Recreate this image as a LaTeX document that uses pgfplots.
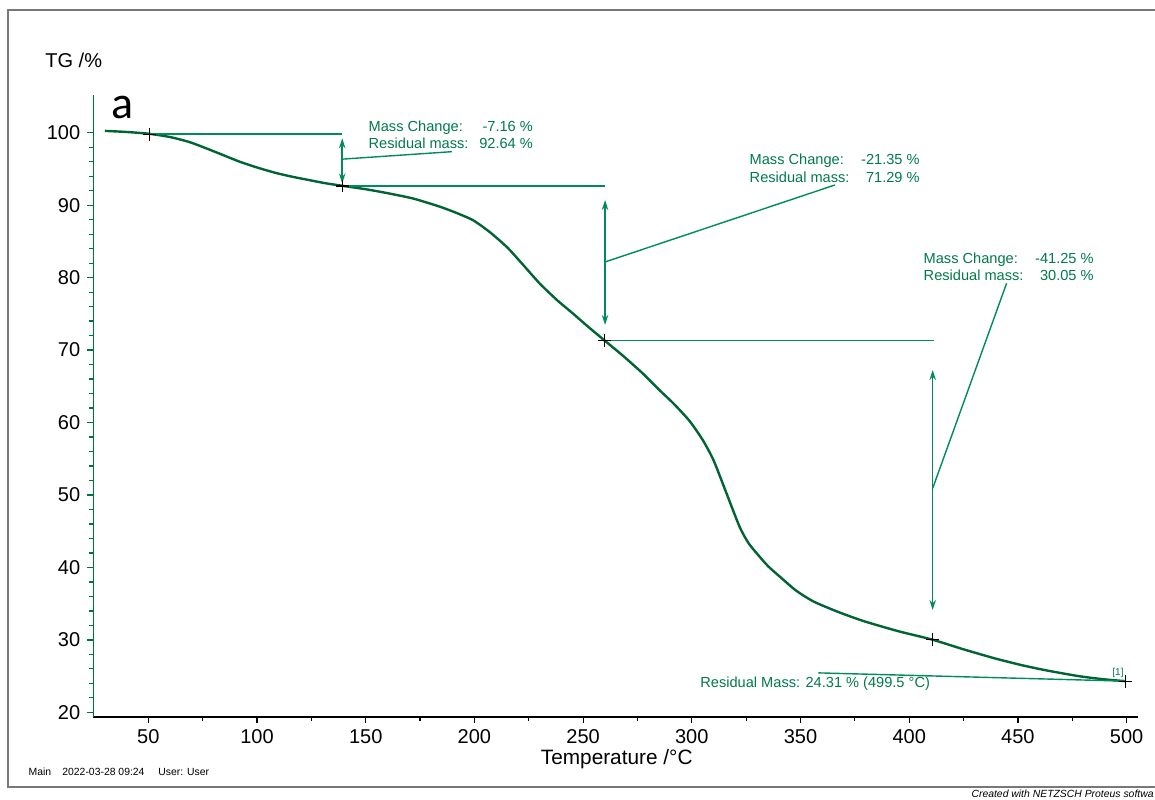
\documentclass[border=0pt]{standalone}
\usepackage{pgfplots}
\pgfplotsset{compat=1.18}
\usepackage{fontspec}
\setmainfont{Liberation Sans}
\newfontfamily\calib{Carlito}
\usetikzlibrary{arrows.meta}
\definecolor{curvegreen}{RGB}{0,100,52}
\definecolor{axgreen}{RGB}{0,115,60}
\definecolor{anngreen}{RGB}{0,140,90}
\definecolor{txtgreen}{RGB}{0,122,76}
\definecolor{framegray}{RGB}{120,120,120}
\begin{document}
\begin{tikzpicture}
\useasboundingbox (0pt,0pt) rectangle (577.5pt,-399.5pt);
\fill[white] (0pt,0pt) rectangle (577.5pt,-399.5pt);
\begin{scope}[x=0.5pt,y=-0.5pt]
\draw[framegray, line width=1.1pt] (1180,10) -- (8.3,10) -- (8.3,786.7) -- (1180,786.7);
\node[anchor=west, font=\fontsize{10}{12}\selectfont, inner sep=0pt] at (45,60) {TG /\%};
\node[anchor=base west, font=\calib\fontsize{23}{26}\selectfont, inner sep=0pt] at (111,118) {a};
\begin{scope}[txtgreen, font=\fontsize{7.3}{8.6}\selectfont, inner sep=0pt]
\node[anchor=base west] at (368.3,131.2) {Mass Change:};
\node[anchor=base east] at (533.3,131.2) {-7.16 \%};
\node[anchor=base west] at (368.3,148.5) {Residual mass:};
\node[anchor=base east] at (533.3,148.5) {92.64 \%};
\node[anchor=base west] at (749.3,164.5) {Mass Change:};
\node[anchor=base east] at (920,164.5) {-21.35 \%};
\node[anchor=base west] at (749.3,182) {Residual mass:};
\node[anchor=base east] at (920,182) {71.29 \%};
\node[anchor=base west] at (923.3,263.5) {Mass Change:};
\node[anchor=base east] at (1094,263.5) {-41.25 \%};
\node[anchor=base west] at (923.3,280.2) {Residual mass:};
\node[anchor=base east] at (1094,280.2) {30.05 \%};
\node[anchor=base west] at (700,687) {Residual Mass: 24.31 \% (499.5 °C)};
\node[anchor=center, font=\fontsize{5}{6}\selectfont] at (1118,673) {[1]};
\end{scope}
\node[anchor=base, font=\fontsize{10.4}{12}\selectfont, inner sep=0pt] at (616.7,764) {Temperature /°C};
\begin{scope}[font=\fontsize{5.2}{6}\selectfont, inner sep=0pt]
\node[anchor=base west] at (28.3,775.4) {Main};
\node[anchor=base west] at (62,775.4) {2022-03-28 09:24};
\node[anchor=base west] at (158,775.4) {User: User};
\node[anchor=base east, font=\fontsize{5.2}{6}\selectfont\itshape] at (1154,797.5) {Created with NETZSCH Proteus softwa};
\end{scope}
\end{scope}
\begin{axis}[
  at={(46.65pt,-358.35pt)}, anchor=south west,
  scale only axis, width=522.35pt, height=310.85pt,
  xmin=24.7, xmax=505.25, ymin=19.4, ymax=105.2,
  axis lines=left, axis line style={-},
  x axis line style={black, line width=0.8pt},
  y axis line style={axgreen, line width=0.8pt},
  xtick={50,100,...,500}, ytick={20,30,...,100},
  minor x tick num=1, minor y tick num=4,
  tick align=outside,
  major tick length=3pt, minor tick length=2pt,
  xtick style={black, line width=0.6pt},
  ytick style={axgreen, line width=0.6pt},
  tick label style={font=\fontsize{10}{12}\selectfont},
  /pgf/number format/assume math mode=true,
  scaled ticks=false,
  clip=false,
]
\addplot[curvegreen, line width=1.2pt, smooth, tension=0.4] coordinates {
(30,100.25)(40,100.1)(50.5,99.85)(60,99.4)(69,98.7)(77,97.8)(84.5,96.9)(92,96.0)
(100,95.2)(108,94.5)(115,94.0)(125,93.4)(132,93.0)(140,92.64)(150,92.2)(161,91.6)
(172,90.9)(184,89.8)(192,88.9)(199.5,87.9)(207,86.3)(215,84.2)(222,81.9)(230,79.2)
(238,76.9)(245.5,75.0)(252,73.3)(260,71.29)(268,69.3)(277,66.9)(285.4,64.4)(292,62.5)
(299,60.2)(305,57.6)(310,54.8)(316,50.2)(322,45.6)(326,43.4)(330,41.9)(335,40.2)
(340.6,38.7)(348,36.8)(356,35.3)(367,33.9)(379,32.6)(395,31.2)(410.5,30.05)(425,28.7)
(440,27.4)(452,26.5)(463,25.8)(478,25.0)(490,24.55)(499.5,24.31)};
\addplot[anngreen, line width=0.7pt] coordinates {(50.5,99.80)(139.2,99.80)};
\addplot[anngreen, line width=0.7pt] coordinates {(139.5,92.64)(260.1,92.64)};
\addplot[anngreen, line width=0.7pt] coordinates {(260,71.29)(411.5,71.29)};
\addplot[anngreen, line width=0.7pt] coordinates {(358.2,25.45)(499.5,24.31)};
\addplot[anngreen, line width=0.7pt] coordinates {(139.2,96.35)(189.6,97.38)};
\addplot[anngreen, line width=0.7pt] coordinates {(260.1,82.16)(365.8,92.78)};
\addplot[anngreen, line width=0.7pt] coordinates {(410.8,50.92)(444.8,79.22)};
\draw[anngreen, line width=0.8pt, {Stealth[length=5pt,width=3.2pt]}-{Stealth[length=5pt,width=3.2pt]}] (axis cs:139.2,99.23) -- (axis cs:139.2,93.0);
\draw[anngreen, line width=0.8pt, {Stealth[length=5pt,width=3.2pt]}-{Stealth[length=5pt,width=3.2pt]}] (axis cs:260.1,90.71) -- (axis cs:260.1,73.46);
\draw[anngreen, line width=0.8pt, {Stealth[length=5pt,width=3.2pt]}-{Stealth[length=5pt,width=3.2pt]}] (axis cs:410.8,67.25) -- (axis cs:410.8,34.13);
\addplot[only marks, mark=+, mark size=3.2pt, black, line width=0.6pt] coordinates {
(50.5,99.80)(139.5,92.64)(260,71.29)(410.8,30.05)(499.5,24.31)};
\end{axis}
\end{tikzpicture}
\end{document}
